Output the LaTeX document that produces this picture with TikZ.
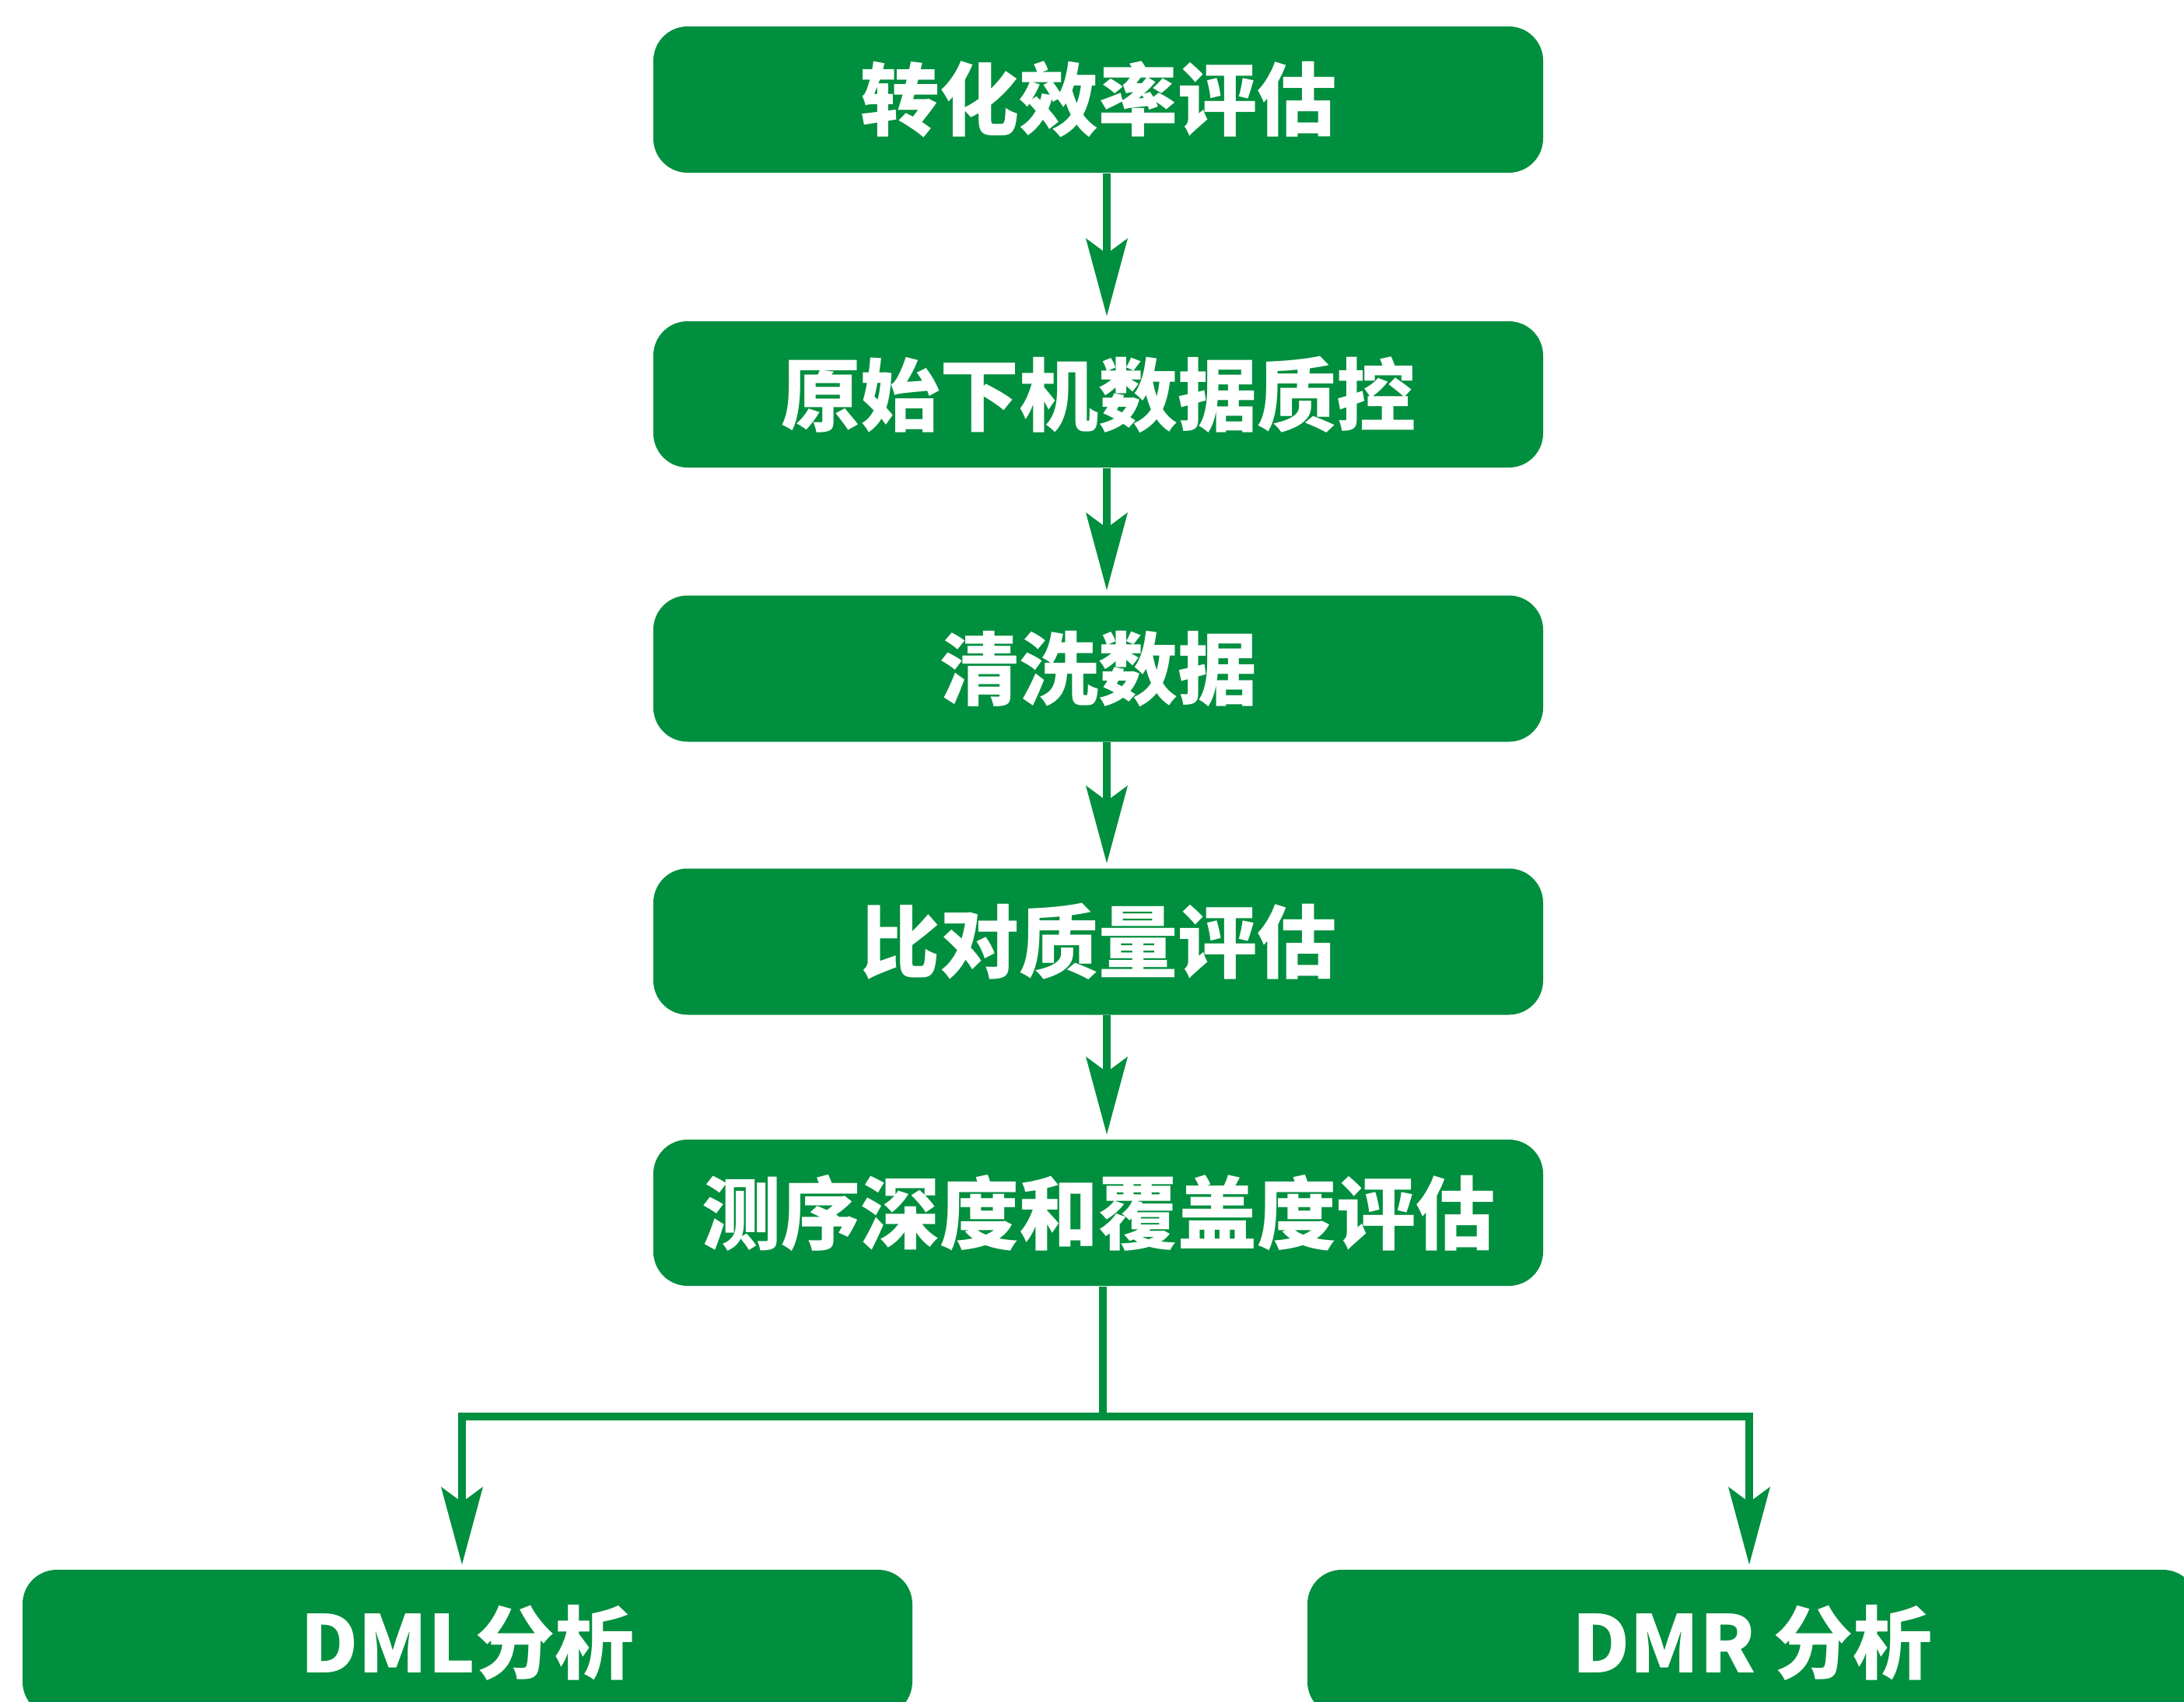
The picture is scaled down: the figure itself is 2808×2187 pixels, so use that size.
\documentclass[tikz,border=0pt]{standalone}
\usepackage{fontspec}
\newfontfamily\cjk{Noto Sans CJK SC}
\usetikzlibrary{arrows.meta}
\definecolor{fgreen}{RGB}{0,143,62}
\tikzset{
  box/.style={rectangle, rounded corners=11pt, fill=fgreen, draw=none,
    minimum width=286pt, minimum height=47pt, inner sep=0pt,
    text=white, font=\cjk\bfseries\fontsize{25.5pt}{30pt}\selectfont},
  conn/.style={draw=fgreen, line width=2.4pt},
  arr/.style={conn, -{Stealth[length=25pt, width=13.5pt, inset=5pt, line width=0pt]}, shorten >=1.5pt}
}
\begin{document}
\begin{tikzpicture}[x=0.25pt, y=-0.25pt]
\useasboundingbox (0,0) rectangle (2808,2187);
\node[box] (b1) at (1412,128) {转化效率评估};
\node[box] (b2) at (1412,507) {原始下机数据质控};
\node[box] (b3) at (1412,859.5) {清洗数据};
\node[box] (b4) at (1412,1210.5) {比对质量评估};
\node[box] (b5) at (1412,1559) {测序深度和覆盖度评估};
\node[box] (b6) at (601,2112) {DML分析};
\node[box] (b7) at (2253,2112) {DMR 分析};
\coordinate (A) at (1423,0);
\coordinate (B) at (1418,0);
\coordinate (H) at (0,1821);
\coordinate (L) at (594,0);
\coordinate (R) at (2249,0);
\draw[arr] (b1.south -| A) -- (b2.north -| A);
\draw[arr] (b2.south -| A) -- (b3.north -| A);
\draw[arr] (b3.south -| A) -- (b4.north -| A);
\draw[arr] (b4.south -| A) -- (b5.north -| A);
\draw[arr] (b5.south -| B) -- (B |- H) -| (b6.north -| L);
\draw[arr] (b5.south -| B) -- (B |- H) -| (b7.north -| R);
\end{tikzpicture}
\end{document}
